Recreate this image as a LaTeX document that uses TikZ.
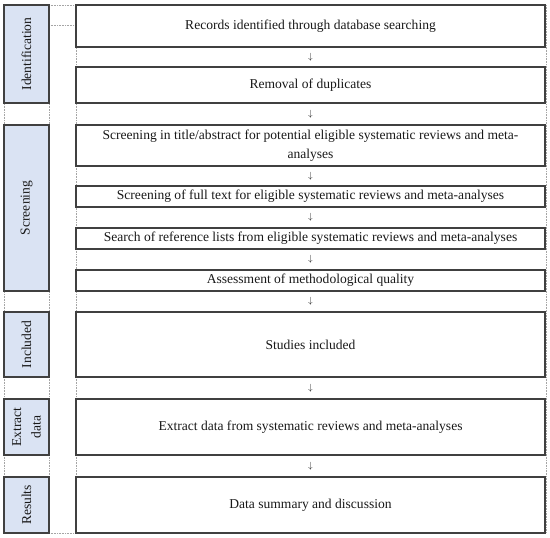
\documentclass[tikz,border=0pt]{standalone}
\usepackage{fontspec}
\setmainfont{Liberation Serif}
\usetikzlibrary{positioning,fit}

\definecolor{sidefill}{RGB}{218,227,243}
\definecolor{boxline}{RGB}{64,64,64}
\definecolor{gridline}{RGB}{165,165,165}

\begin{document}
\begin{tikzpicture}[x=1bp, y=-1bp, node distance=0pt,
    font=\fontsize{13.6}{19.5}\selectfont, text=black!90,
    box/.style={draw=boxline, line width=1.2bp, fill=white, minimum width=469bp, align=center, inner sep=1bp, outer sep=0pt},
    gap/.style={minimum height=21bp, inner sep=0pt, outer sep=0pt, font=\small},
    side/.style={draw=boxline, line width=1.2bp, fill=sidefill, inner sep=0pt, outer sep=0pt},
    grid/.style={draw=gridline, densely dotted, line width=0.6bp}]
    \useasboundingbox (0,0) rectangle (550,538);

    % table grid behind the boxes
    \foreach \x in {4,49,76,546}
        \draw[grid] (\x,5) -- (\x,533);
    \foreach \y in {5,25,533}
        \draw[grid] (49,\y) -- (76,\y);
    \coordinate (L) at (4,0);
    \coordinate (M) at (49,0);

    % steps
    \node[box, minimum height=42bp, anchor=north west] (rec) at (76,5) {Records identified through database searching};
    \node[gap, below=of rec, minimum height=20bp] (a1) {$\downarrow$};
    \node[box, below=of a1, minimum height=36bp] (dup) {Removal of duplicates};
    \node[gap, below=of dup, minimum height=22bp] (a2) {$\downarrow$};
    \node[box, below=of a2, minimum height=41bp] (title) {Screening in title/abstract for potential eligible systematic reviews and meta-\\analyses};
    \node[gap, below=of title, minimum height=20bp] (a3) {$\downarrow$};
    \node[box, below=of a3, minimum height=21bp] (full) {Screening of full text for eligible systematic reviews and meta-analyses};
    \node[gap, below=of full] (a4) {$\downarrow$};
    \node[box, below=of a4, minimum height=21bp] (refs) {Search of reference lists from eligible systematic reviews and meta-analyses};
    \node[gap, below=of refs] (a5) {$\downarrow$};
    \node[box, below=of a5, minimum height=21bp] (qual) {Assessment of methodological quality};
    \node[gap, below=of qual] (a6) {$\downarrow$};
    \node[box, below=of a6, minimum height=65bp] (incl) {Studies included};
    \node[gap, below=of incl, minimum height=22bp] (a7) {$\downarrow$};
    \node[box, below=of a7, minimum height=56bp] (extr) {Extract data from systematic reviews and meta-analyses};
    \node[gap, below=of extr, minimum height=22bp] (a8) {$\downarrow$};
    \node[box, below=of a8, minimum height=56bp] (summ) {Data summary and discussion};

    % phases
    \node[side, fit=(rec.north -| L)(dup.south -| M), label={[rotate=90]center:Identification}] (ident) {};
    \node[side, fit=(title.north -| L)(qual.south -| M), label={[rotate=90]center:Screening}] (screen) {};
    \node[side, fit=(incl.north -| L)(incl.south -| M), label={[rotate=90]center:Included}] (inc) {};
    \node[side, fit=(extr.north -| L)(extr.south -| M), label={[rotate=90, align=center]center:Extract\\data}] (ext) {};
    \node[side, fit=(summ.north -| L)(summ.south -| M), label={[rotate=90]center:Results}] (res) {};
\end{tikzpicture}
\end{document}
